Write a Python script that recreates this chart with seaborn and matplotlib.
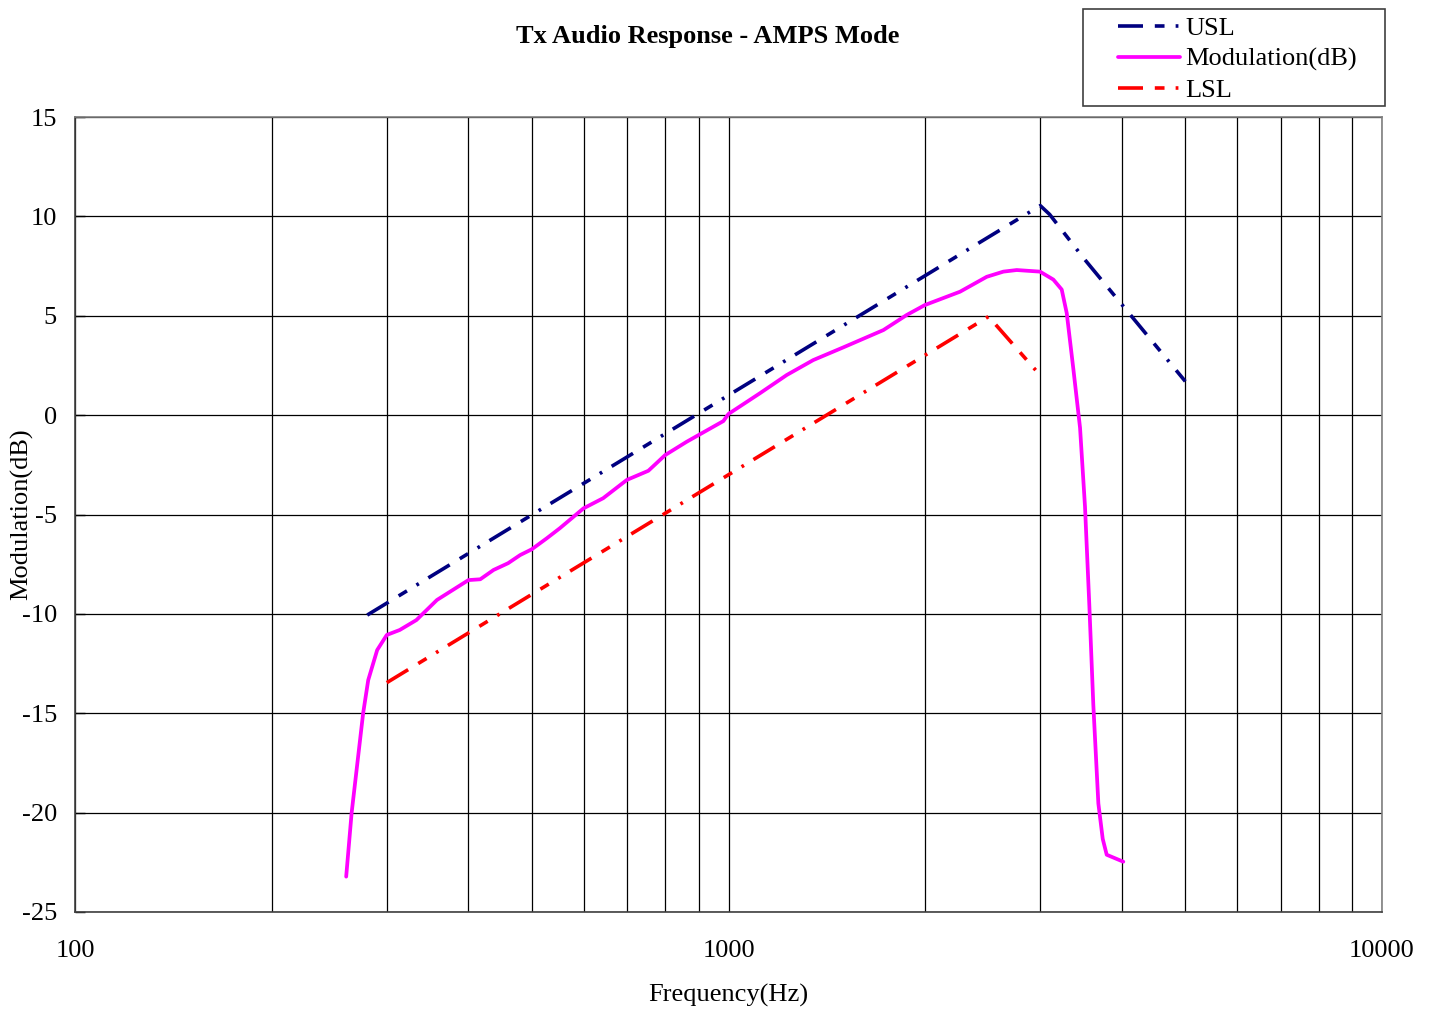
import matplotlib
matplotlib.use("Agg")
import matplotlib.pyplot as plt
import seaborn as sns
import pandas as pd
from matplotlib.ticker import FixedLocator, FixedFormatter, NullFormatter
from matplotlib.patches import Rectangle

# ---------------- data ----------------
usl_freq = [280, 300, 400, 500, 700, 1000, 1500, 2000, 2500, 3000, 3100, 3500, 4000, 4500, 5000]
usl_db = [-10.06, -9.46, -6.96, -5.02, -2.10, 1.00, 4.52, 7.02, 8.96, 10.54, 10.1, 7.87, 5.56, 3.52, 1.70]

mod_freq = [260, 265, 276, 281, 290, 300, 314, 333, 358, 400, 417, 437, 460, 480, 500,
            527, 552, 600, 643, 699, 754, 800, 863, 982, 1000, 1117, 1228, 1348, 1499,
            1726, 1874, 1998, 2261, 2484, 2634, 2761, 2997, 3141, 3235, 3293, 3370, 3451,
            3512, 3566, 3616, 3681, 3738, 3791, 4019]
mod_db = [-23.22, -20.03, -15.0, -13.33, -11.82, -11.06, -10.81, -10.31, -9.30, -8.30, -8.26,
          -7.79, -7.45, -7.04, -6.75, -6.20, -5.69, -4.69, -4.18, -3.26, -2.80, -2.01, -1.34,
          -0.30, 0.06, 1.10, 2.02, 2.77, 3.41, 4.28, 5.04, 5.54, 6.21, 6.96, 7.22, 7.30, 7.22,
          6.82, 6.32, 5.13, 2.34, -0.64, -4.62, -9.59, -14.56, -19.54, -21.32, -22.12, -22.47]

lsl_freq = [300, 400, 500, 700, 1000, 1500, 2000, 2500, 3000]
lsl_db = [-13.46, -10.96, -9.02, -6.10, -3.00, 0.52, 3.02, 4.96, 2.00]

x_major = [100, 1000, 10000]
x_major_labels = ["100", "1000", "10000"]
x_minor = [200, 300, 400, 500, 600, 700, 800, 900, 2000, 3000, 4000, 5000, 6000, 7000, 8000, 9000]
y_ticks = [-25, -20, -15, -10, -5, 0, 5, 10, 15]

title = "Tx Audio Response - AMPS Mode"
xlabel = "Frequency(Hz)"
ylabel = "Modulation(dB)"

# ---------------- style ----------------
sns.set_theme(style="white")
plt.rcParams["font.family"] = ["Liberation Serif", "DejaVu Serif"]
plt.rcParams["axes.unicode_minus"] = False
plt.rcParams["lines.scale_dashes"] = False

W, H = 1436, 1014
fig = plt.figure(figsize=(W / 100, H / 100), dpi=100)
ax = fig.add_axes([75 / W, 1 - 912 / H, (1382 - 75) / W, (912 - 117) / H])

dash = (0, (18, 8.5, 7, 8, 2, 8))
usl_df = pd.DataFrame({"f": usl_freq, "db": usl_db})
mod_df = pd.DataFrame({"f": mod_freq, "db": mod_db})
lsl_df = pd.DataFrame({"f": lsl_freq, "db": lsl_db})

sns.lineplot(data=usl_df, x="f", y="db", ax=ax, color="#000080", linewidth=2.6,
             linestyle=dash, label="USL", estimator=None, sort=False, zorder=3)
sns.lineplot(data=mod_df, x="f", y="db", ax=ax, color="#FF00FF", linewidth=2.7,
             label="Modulation(dB)", estimator=None, sort=False, zorder=3)
sns.lineplot(data=lsl_df, x="f", y="db", ax=ax, color="#FF0000", linewidth=2.6,
             linestyle=dash, label="LSL", estimator=None, sort=False, zorder=3)

ax.set_xscale("log")
ax.set_xlim(100, 10000)
ax.set_ylim(-25, 15)
ax.xaxis.set_major_locator(FixedLocator(x_major))
ax.xaxis.set_major_formatter(FixedFormatter(x_major_labels))
ax.xaxis.set_minor_locator(FixedLocator(x_minor))
ax.xaxis.set_minor_formatter(NullFormatter())
ax.set_yticks(y_ticks)
ax.set_yticklabels([str(v) for v in y_ticks])

ax.grid(True, which="major", axis="y", color="black", linewidth=0.9)
ax.grid(True, which="both", axis="x", color="black", linewidth=0.9)
ax.set_axisbelow(True)

ax.tick_params(axis="x", which="both", length=0, pad=20, labelsize=19, colors="black")
ax.tick_params(axis="y", which="major", direction="in", length=7, width=1,
               pad=13, labelsize=19, colors="black", left=True)

for side in ["left", "bottom"]:
    ax.spines[side].set_color("#404040")
    ax.spines[side].set_linewidth(1.2)
for side in ["top", "right"]:
    ax.spines[side].set_color("#808080")
    ax.spines[side].set_linewidth(1.2)

ax.set_xlabel(xlabel, fontsize=19, color="black")
ax.set_ylabel(ylabel, fontsize=19, color="black")
ax.xaxis.set_label_coords(0.5, -0.090)
ax.yaxis.set_label_coords(-0.032, 0.5)

fig.text(708 / W, 1 - 37 / H, title, ha="center", va="center",
         fontsize=19, fontweight="bold", color="black")

# legend: frame drawn as a figure rectangle, entries placed inside it
handles, labels = ax.get_legend_handles_labels()
ax.get_legend().remove()
fig.patches.append(Rectangle((1083 / W, 1 - 106 / H), (1385 - 1083) / W, (106 - 9) / H,
                             transform=fig.transFigure, fill=True, facecolor="white",
                             edgecolor="#404040", linewidth=1.2, zorder=5))
leg = fig.legend(handles, labels, loc="upper left",
                 bbox_to_anchor=(1118 / W, 1 - 17 / H),
                 fontsize=19, frameon=False, handlelength=2.35, handletextpad=0.2,
                 labelspacing=0.27, borderpad=0, borderaxespad=0)
leg.set_zorder(6)
for t in leg.get_texts():
    t.set_color("black")

fig.savefig("out.png", dpi=100, facecolor="white")
